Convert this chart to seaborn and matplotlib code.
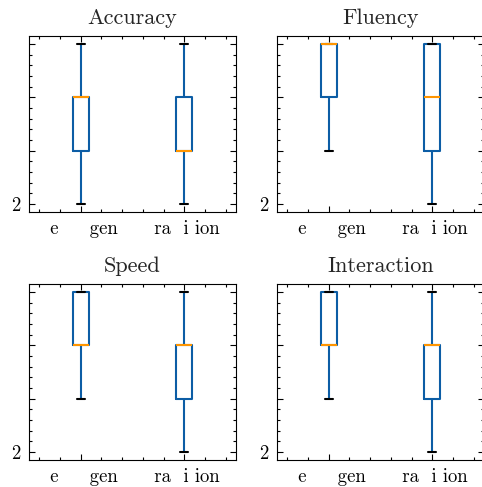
import numpy as np
import pandas as pd
import matplotlib
matplotlib.use("Agg")
import matplotlib.pyplot as plt
from matplotlib.ticker import AutoMinorLocator
import seaborn as sns

# ---- data ----
metrics = ["Accuracy", "Fluency", "Speed", "Interaction"]
groups = [" e     gen", " ra  i ion"]
ytick_values = [2, 3, 4, 5]
ytick_labels = ["2", "", "", ""]

accuracy_g1 = [2, 3, 4, 4, 5]
accuracy_g2 = [2, 3, 3, 4, 5]
fluency_g1 = [3, 4, 5, 5, 5]
fluency_g2 = [2, 3, 4, 5, 5]
speed_g1 = [3, 4, 4, 5, 5]
speed_g2 = [2, 3, 4, 4, 5]
interaction_g1 = [3, 4, 4, 5, 5]
interaction_g2 = [2, 3, 4, 4, 5]

series = {
    "Accuracy": (accuracy_g1, accuracy_g2),
    "Fluency": (fluency_g1, fluency_g2),
    "Speed": (speed_g1, speed_g2),
    "Interaction": (interaction_g1, interaction_g2),
}

BLUE = "#0C5DA5"
ORANGE = "#FF9500"

sns.set_style("ticks")
plt.rcParams["font.family"] = ["cmr10", "DejaVu Serif"]
plt.rcParams["axes.formatter.use_mathtext"] = True
plt.rcParams["axes.unicode_minus"] = False

W, H = 482, 487
fig = plt.figure(figsize=(W / 100, H / 100), dpi=100)
fig.patch.set_facecolor("white")

ax_w, ax_h = 207, 176
lefts = [29, 277]
bottoms = [212, 460]

for i, metric in enumerate(metrics):
    r, c = divmod(i, 2)
    ax = fig.add_axes([lefts[c] / W, 1 - bottoms[r] / H, ax_w / W, ax_h / H])
    g1, g2 = series[metric]
    df = pd.DataFrame({
        "group": [groups[0]] * len(g1) + [groups[1]] * len(g2),
        "score": list(g1) + list(g2),
    })
    sns.boxplot(
        data=df, x="group", y="score", order=groups, ax=ax,
        width=0.15, fill=False, color=BLUE, linewidth=1.5,
        medianprops=dict(color=ORANGE, linewidth=1.5),
        capprops=dict(color="black", linewidth=1.5),
        whiskerprops=dict(color=BLUE, linewidth=1.5),
        boxprops=dict(color=BLUE, linewidth=1.5),
    )
    ax.set_xlim(-0.5, 1.5)
    ax.set_ylim(1.85, 5.15)
    ax.set_yticks(ytick_values)
    ax.set_yticklabels(ytick_labels)
    ax.xaxis.set_minor_locator(AutoMinorLocator())
    ax.yaxis.set_minor_locator(AutoMinorLocator())
    ax.tick_params(which="both", direction="in", top=True, right=True,
                   colors="black", labelsize=13.5, width=0.8)
    ax.tick_params(which="major", length=4.5, pad=6)
    ax.tick_params(which="minor", length=2.3)
    ax.set_xlabel("")
    ax.set_ylabel("")
    for s in ax.spines.values():
        s.set_linewidth(0.8)
        s.set_color("black")
    ax.set_title(metric, fontsize=16, pad=9)

fig.savefig("out.png", dpi=100, facecolor="white")
